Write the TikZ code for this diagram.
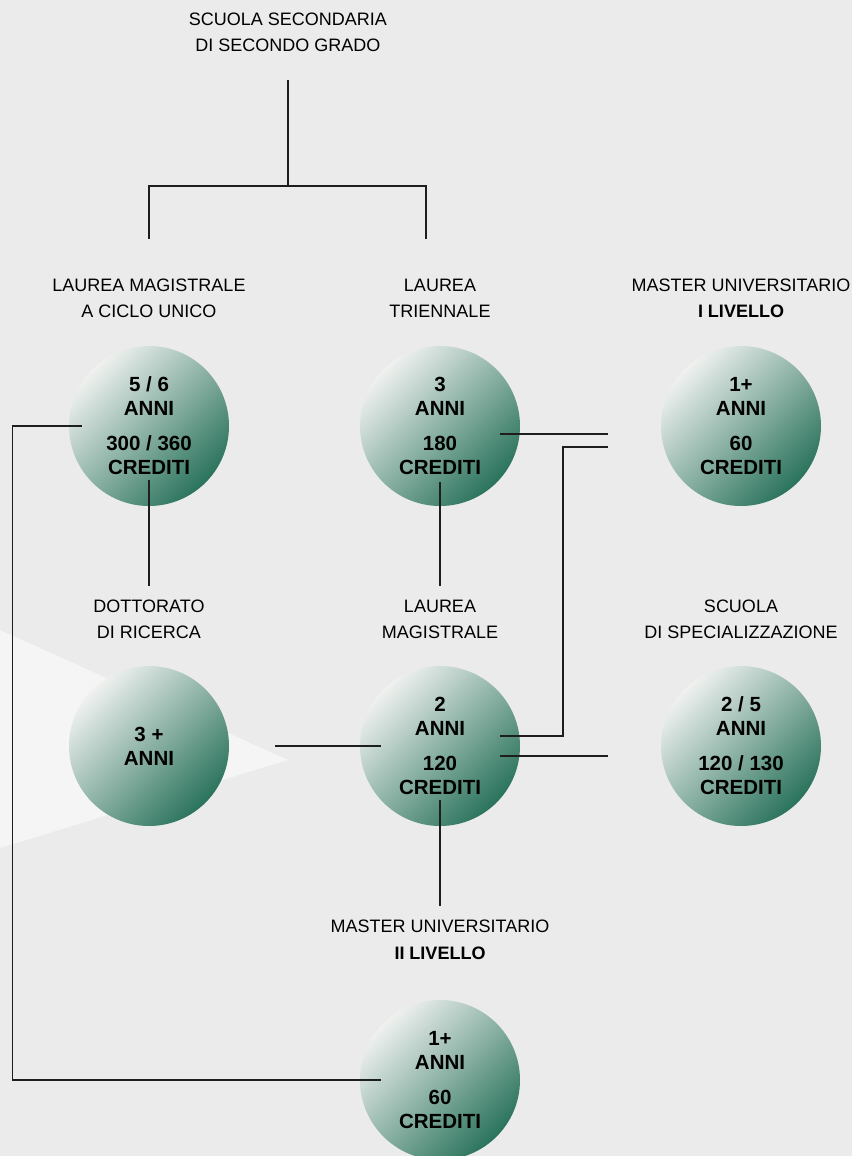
\documentclass[tikz,border=0pt]{standalone}
\usepackage{fontspec}
\setmainfont{Liberation Sans}
\usetikzlibrary{calc}

\definecolor{sfondo}{HTML}{EBEBEB}
\definecolor{fascio}{HTML}{F5F5F5}
\definecolor{verdechiaro}{HTML}{EFF1EF}
\definecolor{verdemedio}{HTML}{B3CEC3}
\definecolor{verdescuro}{HTML}{2A735C}
\definecolor{tratto}{HTML}{1E1E1E}

\tikzset{
  etichetta/.style={align=center, inner sep=0pt, text=black,
    font=\fontsize{18}{26.5}\selectfont},
  anni/.style={circle, minimum size=160pt, inner sep=0pt, align=center,
    top color=verdechiaro, middle color=verdemedio, bottom color=verdescuro,
    shading angle=45, text=black,
    font=\bfseries\fontsize{20.5}{24}\selectfont},
  linea/.style={draw=tratto, line width=1.3pt}
}

\begin{document}
\begin{tikzpicture}[x=1pt, y=-1pt]
  % Sfondo
  \fill[sfondo] (0,0) rectangle (852,1156);
  \useasboundingbox (0,0) rectangle (852,1156);

  % Fascio di luce dietro il dottorato
  \fill[fascio] (0,630) -- (288,760) -- (0,848) -- cycle;

  % Etichette
  \node[etichetta] (titolo) at (288,32.5) {SCUOLA SECONDARIA\\DI SECONDO GRADO};
  \node[etichetta] (lab-ciclo) at (149,298.5) {LAUREA MAGISTRALE\\A CICLO UNICO};
  \node[etichetta] (lab-triennale) at (440,298.5) {LAUREA\\TRIENNALE};
  \node[etichetta] (lab-master1) at (741,298.5) {MASTER UNIVERSITARIO\\\textbf{I LIVELLO}};
  \node[etichetta] (lab-dottorato) at (149,619.5) {DOTTORATO\\DI RICERCA};
  \node[etichetta] (lab-magistrale) at (440,619.5) {LAUREA\\MAGISTRALE};
  \node[etichetta] (lab-specializzazione) at (741,619.5) {SCUOLA\\DI SPECIALIZZAZIONE};
  \node[etichetta] (lab-master2) at (440,940) {MASTER UNIVERSITARIO\\\textbf{II LIVELLO}};

  % Cerchi
  \node[anni] (ciclo) at (149,426) {5 / 6\\ANNI\\[11pt]300 / 360\\CREDITI};
  \node[anni] (triennale) at (440,426) {3\\ANNI\\[11pt]180\\CREDITI};
  \node[anni] (master1) at (741,426) {1+\\ANNI\\[11pt]60\\CREDITI};
  \node[anni] (dottorato) at (149,746) {3 +\\ANNI};
  \node[anni] (magistrale) at (440,746) {2\\ANNI\\[11pt]120\\CREDITI};
  \node[anni] (specializzazione) at (741,746) {2 / 5\\ANNI\\[11pt]120 / 130\\CREDITI};
  \node[anni] (master2) at (440,1080) {1+\\ANNI\\[11pt]60\\CREDITI};

  % Biforcazione dalla scuola secondaria
  \coordinate (bivio) at (288,186);
  \draw[linea] ([yshift=-28pt]titolo.south) -- (bivio);
  \draw[linea] ([yshift=40pt]lab-ciclo.north) |- (bivio)
    -| ([xshift=-14pt, yshift=40pt]lab-triennale.north);

  % Collegamenti verticali
  \draw[linea] ([yshift=-54pt]ciclo.center) -- ([yshift=14pt]lab-dottorato.north);
  \draw[linea] ([yshift=-56pt]triennale.center) -- ([yshift=14pt]lab-magistrale.north);
  \draw[linea] ([yshift=-54pt]magistrale.center) -- ([yshift=14pt]lab-master2.north);

  % Collegamenti orizzontali
  \draw[linea] ([xshift=13pt]ciclo.west) -- ++(-69,0) |- ([xshift=21pt]master2.west);
  \draw[linea] ([shift={(60pt,-8pt)}]triennale.center) -- ([shift={(-53pt,-8pt)}]master1.west);
  \draw[linea] ([shift={(60pt,10pt)}]magistrale.center) -- ++(63,0)
    |- ([shift={(-53pt,-21pt)}]master1.west);
  \draw[linea] ([shift={(60pt,-10pt)}]magistrale.center) -- ([shift={(-53pt,-10pt)}]specializzazione.west);
  \draw[linea] ([xshift=46pt]dottorato.east) -- ([xshift=21pt]magistrale.west);
\end{tikzpicture}
\end{document}
